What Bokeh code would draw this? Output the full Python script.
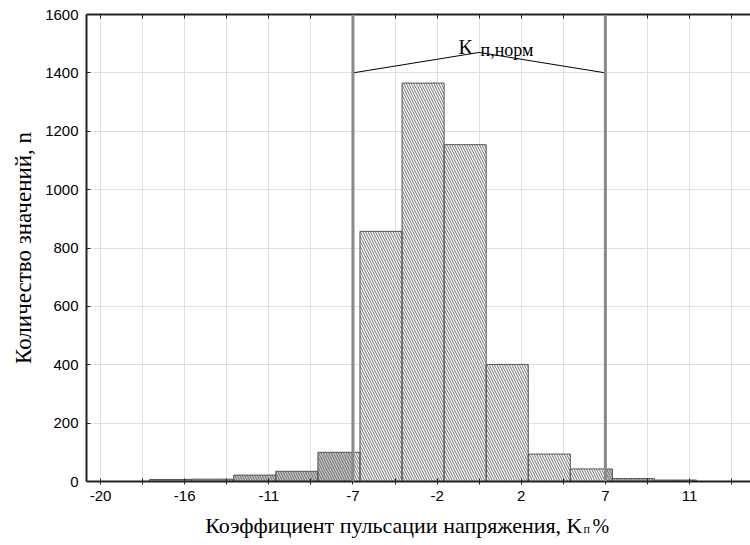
import numpy as np
from bokeh.plotting import figure
from bokeh.layouts import column
from bokeh.models import Range1d, FixedTicker, LinearAxis, Span, Label
from bokeh.embed import file_html
from bokeh.resources import INLINE

# ---------------- data ----------------
bin_centers = [-16.25, -14.0, -11.75, -9.5, -7.25, -5.0, -2.75, -0.5, 1.75, 4.0, 6.25, 8.5, 10.75]
counts = [7, 8, 22, 35, 100, 857, 1365, 1154, 401, 94, 43, 10, 5]
bin_width = 2.25
norm_limits = [-6.5, 7.0]          # K_п,норм limits
bracket_y = [1400, 1470, 1400]
x_tick_values = [-20.0, -17.75, -15.5, -13.25, -11.0, -8.75, -6.5, -4.25,
                 -2.0, 0.25, 2.5, 4.75, 7.0, 9.25, 11.5, 13.75]
x_tick_labels = ["-20", "", "-16", "", "-11", "", "-7", "",
                 "-2", "", "2", "", "7", "", "11", ""]
y_tick_values = [0, 200, 400, 600, 800, 1000, 1200, 1400, 1600]
y_label = "Количество значений, n"
x_label_main = "Коэффициент пульсации напряжения, K"
x_label_sub = "п"
x_label_tail = "%"
note_main = "K"
note_sub = "п,норм"

# ---------------- layout ----------------
W, H = 750, 545
H1 = 510                      # main plot height; the x-axis title strip sits below
FL, FR, FT, FB = 86, 750, 14, 481
X0, X1 = -20.75, 14.76
Y0, Y1 = 0, 1600


def px_x(px):
    return X0 + (px - FL) * (X1 - X0) / (FR - FL)


def px_y(py):
    return Y0 + (FB - py) * (Y1 - Y0) / (FB - FT)


xr = Range1d(X0, X1)
p = figure(width=W, height=H1, x_range=xr, y_range=Range1d(Y0, Y1),
           output_backend="svg", toolbar_location=None,
           min_border_left=FL, min_border_right=W - FR, min_border_top=FT,
           min_border_bottom=H1 - FB)
p.outline_line_color = None
p.background_fill_color = "white"
p.border_fill_color = "white"

xt = FixedTicker(ticks=x_tick_values)
yt = FixedTicker(ticks=y_tick_values)

xa = p.xaxis[0]
xa.ticker = xt
xa.major_label_overrides = dict(zip(x_tick_values, x_tick_labels))
xa.axis_line_width = 2
xa.axis_line_color = "#222222"
xa.major_tick_in = 3
xa.major_tick_out = 3
xa.major_tick_line_color = "#222222"
xa.minor_tick_line_color = None
xa.major_label_text_font = "Liberation Sans"
xa.major_label_text_font_size = "15px"
xa.major_label_text_color = "black"
xa.major_label_standoff = 6

ya = p.yaxis[0]
ya.ticker = yt
ya.axis_line_width = 2
ya.axis_line_color = "#222222"
ya.major_tick_in = 4
ya.major_tick_out = 0
ya.major_tick_line_color = "#222222"
ya.minor_tick_line_color = None
ya.major_label_text_font = "Liberation Sans"
ya.major_label_text_font_size = "15px"
ya.major_label_text_color = "black"
ya.major_label_standoff = 8
ya.axis_label = y_label
ya.axis_label_text_font = "Liberation Serif"
ya.axis_label_text_font_size = "23px"
ya.axis_label_text_font_style = "normal"
ya.axis_label_text_color = "black"
ya.axis_label_standoff = 6

top = LinearAxis(ticker=xt, major_label_text_font_size="0px", major_label_standoff=0,
                 major_tick_in=4, major_tick_out=0, axis_line_width=2,
                 axis_line_color="#222222", major_tick_line_color="#222222",
                 minor_tick_line_color=None)
top.major_label_overrides = {v: "" for v in x_tick_values}
p.add_layout(top, "above")

p.xgrid.ticker = xt
p.ygrid.ticker = yt
p.xgrid.grid_line_color = "#e0e0e0"
p.ygrid.grid_line_color = "#e0e0e0"

# ---------------- bars ----------------
c = np.array(bin_centers)
h = np.array(counts, dtype=float)
left = c - bin_width / 2
right = c + bin_width / 2
lo, hi = norm_limits

oL_r = np.minimum(right, lo)
mL = left < lo
oR_l = np.maximum(left, hi)
mR = right > hi
in_l = np.maximum(left, lo)
in_r = np.minimum(right, hi)
mI = in_r > in_l

hatch_kw = dict(hatch_pattern="\\", hatch_color="#6e6e6e", hatch_scale=5, hatch_weight=1)
p.quad(left=left[mL], right=oL_r[mL], bottom=0, top=h[mL], fill_color="#c4c4c4",
       line_color=None, **hatch_kw)
p.quad(left=oR_l[mR], right=right[mR], bottom=0, top=h[mR], fill_color="#c4c4c4",
       line_color=None, **hatch_kw)
p.quad(left=in_l[mI], right=in_r[mI], bottom=0, top=h[mI], fill_color="white",
       line_color=None, **hatch_kw)
p.quad(left=left, right=right, bottom=0, top=h, fill_color=None,
       line_color="#555555", line_width=1)

# ---------------- norm lines and bracket ----------------
for v in norm_limits:
    p.add_layout(Span(location=v, dimension="height", line_color="#8a8a8a", line_width=3))

p.line([lo, (lo + hi) / 2, hi], bracket_y, line_color="black", line_width=1)

serif = "Liberation Serif"
p.add_layout(Label(x=px_x(458), y=px_y(46), text=note_main, text_font=serif,
                   text_font_size="20px", text_color="black", text_baseline="alphabetic"))
p.add_layout(Label(x=px_x(480), y=px_y(49), text=note_sub, text_font=serif,
                   text_font_size="18px", text_color="black", text_baseline="alphabetic"))

# ---------------- x-axis title strip (with subscript) ----------------
H2 = H - H1
q = figure(width=W, height=H2, x_range=xr, y_range=Range1d(H2, 0),
           output_backend="svg", toolbar_location=None, x_axis_type=None, y_axis_type=None,
           min_border_left=FL, min_border_right=W - FR, min_border_top=0, min_border_bottom=0)
q.outline_line_color = None
q.grid.visible = False
q.background_fill_color = "white"
q.border_fill_color = "white"
lab_kw = dict(text_font=serif, text_color="black", text_baseline="alphabetic")
q.add_layout(Label(x=px_x(582), y=525 - H1, text=x_label_main, text_font_size="22px",
                   text_align="right", **lab_kw))
q.add_layout(Label(x=px_x(583), y=528 - H1, text=x_label_sub, text_font_size="12px",
                   text_align="left", **lab_kw))
q.add_layout(Label(x=px_x(592), y=525 - H1, text=x_label_tail, text_font_size="20px",
                   text_align="left", **lab_kw))

layout = column(p, q, spacing=0)
open("out.html", "w").write(file_html(layout, INLINE))
